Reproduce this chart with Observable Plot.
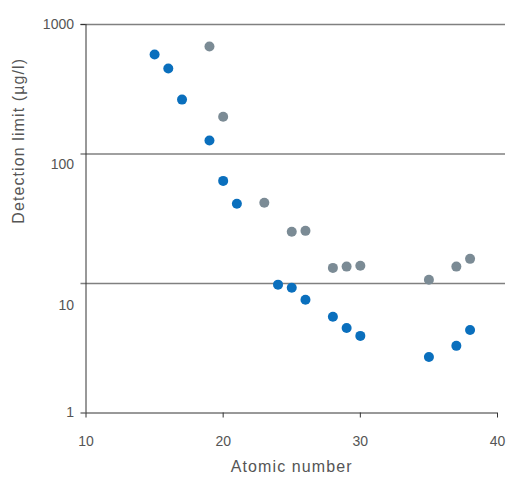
<!DOCTYPE html>
<html>
<head>
<meta charset="utf-8">
<script src="https://cdn.jsdelivr.net/npm/d3@7"></script>
<script src="https://cdn.jsdelivr.net/npm/@observablehq/plot@0.6"></script>
<style>
  html, body { margin: 0; padding: 0; background: #fff; }
</style>
</head>
<body>
<div id="chart"></div>
<script>
// Series 1 (blue)
const blueAtomic = [15, 16, 17, 19, 20, 21, 24, 25, 26, 28, 29, 30, 35, 37, 38];
const blueLimit  = [586, 457, 263, 127, 62, 41.3, 9.8, 9.26, 7.48, 5.53, 4.54, 3.94, 2.71, 3.30, 4.38];
// Series 2 (grey)
const greyAtomic = [19, 20, 23, 25, 26, 28, 29, 30, 35, 37, 38];
const greyLimit  = [676, 194, 42, 25.1, 25.5, 13.2, 13.5, 13.7, 10.7, 13.5, 15.5];
// Axis ticks and titles
const xTicks = [10, 20, 30, 40];
const yTicks = [1, 10, 100, 1000];
const gridTicks = [10, 100, 1000];
const xTitle = "Atomic number";
const yTitle = "Detection limit (µg/l)";

const blue = blueAtomic.map((x, i) => ({x, y: blueLimit[i]}));
const grey = greyAtomic.map((x, i) => ({x, y: greyLimit[i]}));

const font = "'Liberation Sans', Arial, sans-serif";
const textColor = "#555";

const chart = Plot.plot({
  width: 507,
  height: 480,
  marginLeft: 85.5,
  marginRight: 10,
  marginTop: 24,
  marginBottom: 67.5,
  style: {fontFamily: font, fontSize: "14px", color: textColor, background: "#fff"},
  x: {domain: [10, 40]},
  y: {type: "log", domain: [1, 1000]},
  marks: [
    Plot.ruleY(gridTicks, {stroke: "#808080", strokeWidth: 1.5, insetLeft: -5, insetRight: -8}),
    Plot.ruleX([10], {stroke: "#333", strokeWidth: 1}),
    Plot.ruleY([1], {stroke: "#333", strokeWidth: 1}),
    Plot.axisX({
      ticks: xTicks, tickSize: 5, tickPadding: 18, tickFormat: d => String(d),
      stroke: "#333", fill: textColor, fontSize: 14, label: null
    }),
    Plot.axisY({
      ticks: [yTicks[0], yTicks[3]], tickSize: 5, tickPadding: 7, tickFormat: d => String(d),
      stroke: "#333", fill: textColor, fontSize: 14, label: null
    }),
    Plot.axisY({
      ticks: [yTicks[2]], tickSize: 0, tickPadding: 12, dy: 11, tickFormat: d => String(d),
      fill: textColor, fontSize: 14, label: null
    }),
    Plot.axisY({
      ticks: [yTicks[1]], tickSize: 0, tickPadding: 12, dy: 22, tickFormat: d => String(d),
      fill: textColor, fontSize: 14, label: null
    }),
    Plot.text([xTitle], {frameAnchor: "bottom", dy: 59, fontSize: 16, fill: textColor, style: "letter-spacing:1.2px"}),
    Plot.text([yTitle], {frameAnchor: "left", rotate: -90, dx: -67.5, dy: 5, fontSize: 16, fill: textColor}),
    Plot.dot(grey, {x: "x", y: "y", r: 5, fill: "#7b8b95", stroke: "none"}),
    Plot.dot(blue, {x: "x", y: "y", r: 5, fill: "#0a6fbd", stroke: "none"})
  ]
});
// letter spacing for the axis titles
d3.select(chart).selectAll("text").filter(function() {
  const t = this.textContent; return t === xTitle || t === yTitle;
}).attr("letter-spacing", "1.1px");
document.getElementById("chart").appendChild(chart);
</script>
</body>
</html>
